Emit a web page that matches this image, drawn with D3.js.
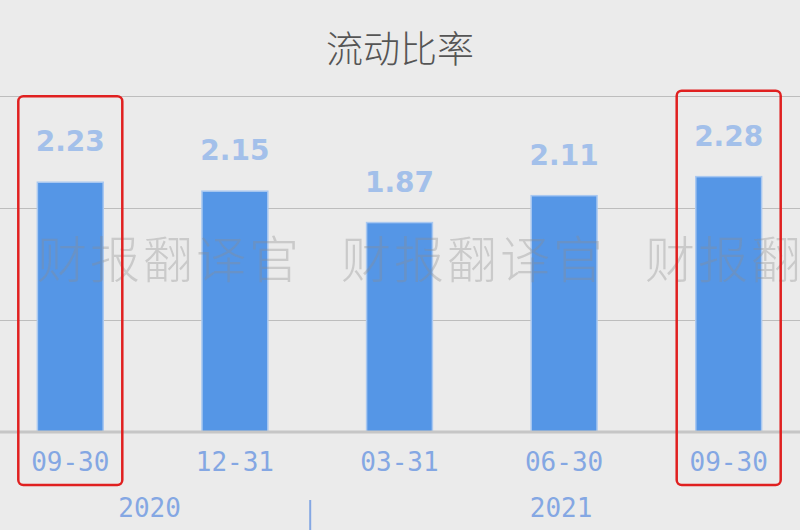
<!DOCTYPE html>
<html>
<head>
<meta charset="utf-8">
<script src="https://cdn.jsdelivr.net/npm/d3@7"></script>
<style>
  body { margin: 0; background: #ebebeb; }
  svg { display: block; }
</style>
</head>
<body>
<div id="chart"></div>
<script>
// data
var categories = ["09-30", "12-31", "03-31", "06-30", "09-30 "];
var years = ["2020", "2020", "2021", "2021", "2021"];
var values = [2.23, 2.15, 1.87, 2.11, 2.28];
var yTicks = [1, 2, 3];
var highlighted = [0, 4];
var watermark = ["财报翻译官", "财报翻译官", "财报翻译官"];

var width = 800, height = 530;

var svg = d3.select("#chart").append("svg")
  .attr("width", width)
  .attr("height", height);

svg.append("rect")
  .attr("width", width)
  .attr("height", height)
  .attr("fill", "#ebebeb");

var xScale = d3.scaleBand()
  .domain(categories)
  .range([-12, 811])
  .paddingInner(0.6)
  .paddingOuter(0.3);

var yScale = d3.scaleLinear()
  .domain([0, 3])
  .range([432, 96]);

// title
svg.append("text")
  .attr("x", 400)
  .attr("y", 63)
  .attr("text-anchor", "middle")
  .attr("font-family", "Noto Sans CJK SC")
  .attr("font-weight", 300)
  .attr("font-size", "37px")
  .attr("fill", "#555")
  .text("流动比率");

// gridlines
svg.append("g")
  .attr("class", "grid")
  .call(d3.axisLeft(yScale).tickValues(yTicks).tickSize(-width).tickFormat(""))
  .call(function(g) {
    g.select(".domain").remove();
    g.selectAll("line").attr("stroke", "#bdbdbd").attr("stroke-width", 1.2);
  });

// bars
svg.append("g").selectAll("rect")
  .data(values)
  .enter().append("rect")
  .attr("x", function(d, i) { return xScale(categories[i]); })
  .attr("y", function(d) { return yScale(d); })
  .attr("width", xScale.bandwidth())
  .attr("height", function(d) { return yScale(0) - yScale(d); })
  .attr("fill", "#5596e6")
  .attr("stroke", "#a9c8f0")
  .attr("stroke-width", 1.5);

// watermark
svg.append("g").selectAll("text")
  .data(watermark)
  .enter().append("text")
  .attr("x", function(d, i) { return 37 + i * 304; })
  .attr("y", 278)
  .attr("font-family", "Noto Sans CJK SC")
  .attr("font-weight", 300)
  .attr("font-size", "50px")
  .attr("letter-spacing", "3px")
  .attr("fill", "rgba(140,140,140,0.35)")
  .text(function(d) { return d; });

// value labels
svg.append("g").selectAll("text")
  .data(values)
  .enter().append("text")
  .attr("x", function(d, i) { return xScale(categories[i]) + xScale.bandwidth() / 2; })
  .attr("y", function(d) { return yScale(d) - 31; })
  .attr("text-anchor", "middle")
  .attr("font-family", "DejaVu Sans")
  .attr("font-weight", "bold")
  .attr("font-size", "28px")
  .attr("fill", "#a3c0ea")
  .text(function(d) { return d.toFixed(2); });

// x axis baseline + labels
var xAxis = svg.append("g")
  .attr("class", "x axis")
  .attr("transform", "translate(0," + yScale(0) + ")")
  .call(d3.axisBottom(xScale).tickSize(0).tickPadding(21).tickFormat(function(d) { return d.trim(); }));
xAxis.select(".domain").remove();
xAxis.selectAll("text")
  .attr("font-family", "DejaVu Sans Mono")
  .attr("font-size", "26px")
  .attr("fill", "#84a7e3");
svg.append("line")
  .attr("x1", 0).attr("x2", width)
  .attr("y1", yScale(0)).attr("y2", yScale(0))
  .attr("stroke", "#c6c6c6")
  .attr("stroke-width", 3);

// year labels
var yearGroups = d3.groups(categories.map(function(c, i) { return {c: c, y: years[i]}; }), function(d) { return d.y; });
svg.append("g").selectAll("text")
  .data(yearGroups)
  .enter().append("text")
  .attr("x", function(g) { return d3.mean(g[1], function(d) { return xScale(d.c) + xScale.bandwidth() / 2; }) - 3; })
  .attr("y", 517)
  .attr("text-anchor", "middle")
  .attr("font-family", "DejaVu Sans Mono")
  .attr("font-size", "26px")
  .attr("fill", "#84a7e3")
  .text(function(g) { return g[0]; });

// year separator
var sepIdx = years.indexOf("2021");
var sepX = (xScale(categories[sepIdx - 1]) + xScale.bandwidth() + xScale(categories[sepIdx])) / 2 - 7;
svg.append("line")
  .attr("x1", sepX).attr("x2", sepX)
  .attr("y1", 500).attr("y2", 530)
  .attr("stroke", "#84a7e3")
  .attr("stroke-width", 2);

// highlight boxes
svg.append("g").selectAll("rect")
  .data(highlighted)
  .enter().append("rect")
  .attr("x", function(i) { return xScale(categories[i]) + xScale.bandwidth() / 2 - 52; })
  .attr("y", function(i) { return yScale(values[i]) - 86; })
  .attr("width", 104)
  .attr("height", function(i) { return 485 - (yScale(values[i]) - 86); })
  .attr("rx", 5)
  .attr("fill", "none")
  .attr("stroke", "#e02020")
  .attr("stroke-width", 2.5);
</script>
</body>
</html>
